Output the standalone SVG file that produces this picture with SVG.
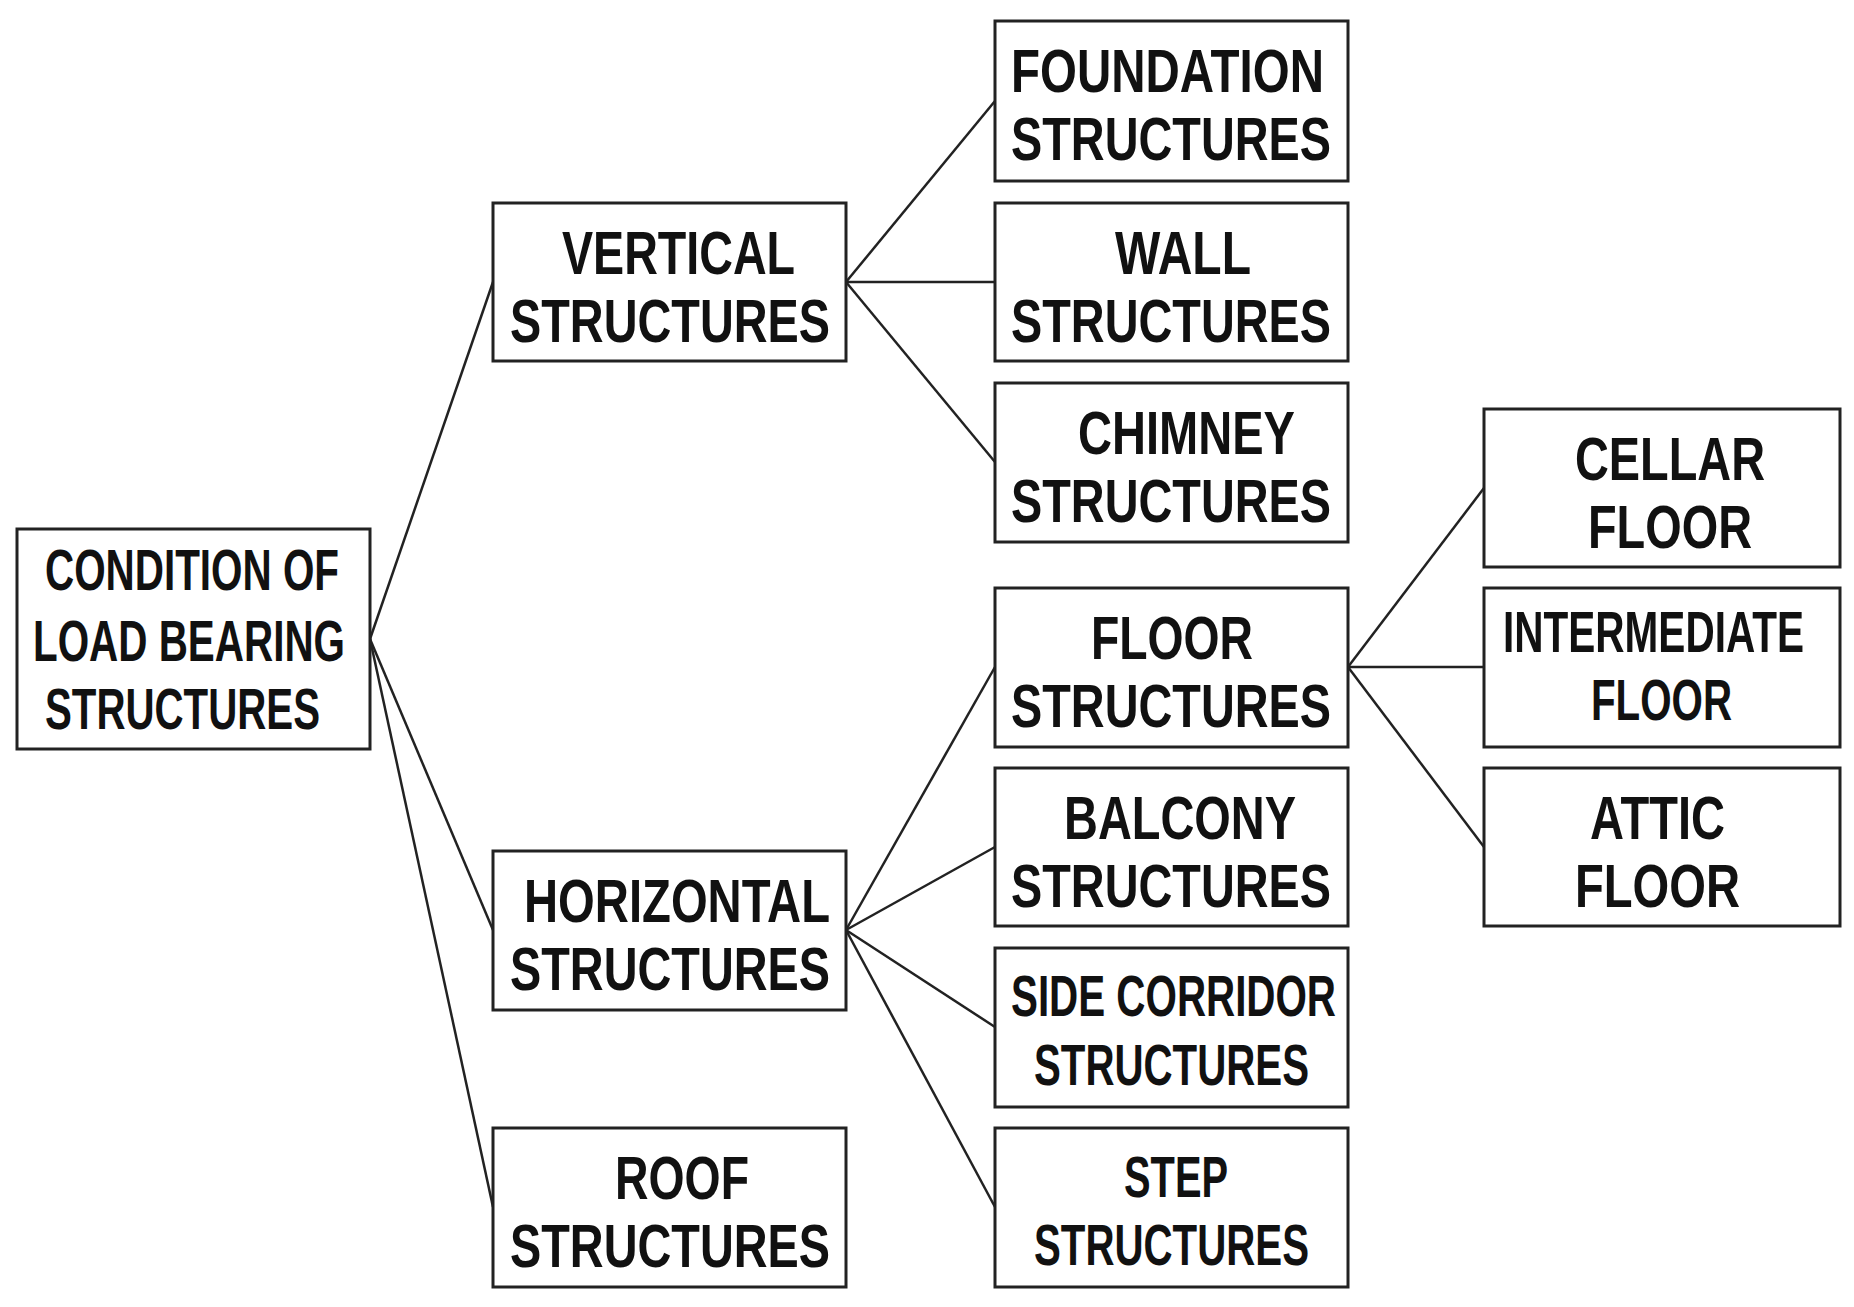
<svg xmlns="http://www.w3.org/2000/svg" width="1854" height="1307" viewBox="0 0 1854 1307">
<style>
rect{fill:#fff;stroke:#222;stroke-width:3}
text{font-family:"Liberation Sans",Arial,sans-serif;font-weight:bold;font-size:62px;fill:#111}
.s{font-size:57px}
line{stroke:#222;stroke-width:2.5}
</style>
<rect x="0" y="0" width="1854" height="1307" style="stroke:none"/>
<g id="connectors">
<line x1="370" y1="639" x2="493" y2="282"/>
<line x1="370" y1="639" x2="493" y2="930"/>
<line x1="370" y1="639" x2="493" y2="1207"/>
<line x1="846" y1="282" x2="995" y2="101"/>
<line x1="846" y1="282" x2="995" y2="282"/>
<line x1="846" y1="282" x2="995" y2="462"/>
<line x1="846" y1="930" x2="995" y2="667"/>
<line x1="846" y1="930" x2="995" y2="847"/>
<line x1="846" y1="930" x2="995" y2="1027"/>
<line x1="846" y1="930" x2="995" y2="1207"/>
<line x1="1348" y1="667" x2="1484" y2="488"/>
<line x1="1348" y1="667" x2="1484" y2="667"/>
<line x1="1348" y1="667" x2="1484" y2="847"/>
</g>
<g id="root"><rect x="17" y="529" width="353" height="220"/>
<text class="s" x="45" y="590" textLength="294" lengthAdjust="spacingAndGlyphs">CONDITION OF</text>
<text class="s" x="33" y="661" textLength="312" lengthAdjust="spacingAndGlyphs">LOAD BEARING</text>
<text class="s" x="45" y="729" textLength="275" lengthAdjust="spacingAndGlyphs">STRUCTURES</text></g>
<g id="vertical"><rect x="493" y="203" width="353" height="158"/>
<text x="562" y="274" textLength="233" lengthAdjust="spacingAndGlyphs">VERTICAL</text>
<text x="510" y="342" textLength="320" lengthAdjust="spacingAndGlyphs">STRUCTURES</text></g>
<g id="horizontal"><rect x="493" y="851" width="353" height="159"/>
<text x="524" y="922" textLength="306" lengthAdjust="spacingAndGlyphs">HORIZONTAL</text>
<text x="510" y="990" textLength="320" lengthAdjust="spacingAndGlyphs">STRUCTURES</text></g>
<g id="roof"><rect x="493" y="1128" width="353" height="159"/>
<text x="615" y="1199" textLength="134" lengthAdjust="spacingAndGlyphs">ROOF</text>
<text x="510" y="1267" textLength="320" lengthAdjust="spacingAndGlyphs">STRUCTURES</text></g>
<g id="foundation"><rect x="995" y="21" width="353" height="160"/>
<text x="1011" y="92" textLength="313" lengthAdjust="spacingAndGlyphs">FOUNDATION</text>
<text x="1011" y="160" textLength="320" lengthAdjust="spacingAndGlyphs">STRUCTURES</text></g>
<g id="wall"><rect x="995" y="203" width="353" height="158"/>
<text x="1115" y="274" textLength="136" lengthAdjust="spacingAndGlyphs">WALL</text>
<text x="1011" y="342" textLength="320" lengthAdjust="spacingAndGlyphs">STRUCTURES</text></g>
<g id="chimney"><rect x="995" y="383" width="353" height="159"/>
<text x="1078" y="454" textLength="217" lengthAdjust="spacingAndGlyphs">CHIMNEY</text>
<text x="1011" y="522" textLength="320" lengthAdjust="spacingAndGlyphs">STRUCTURES</text></g>
<g id="floor"><rect x="995" y="588" width="353" height="159"/>
<text x="1091" y="659" textLength="162" lengthAdjust="spacingAndGlyphs">FLOOR</text>
<text x="1011" y="727" textLength="320" lengthAdjust="spacingAndGlyphs">STRUCTURES</text></g>
<g id="balcony"><rect x="995" y="768" width="353" height="158"/>
<text x="1064" y="839" textLength="232" lengthAdjust="spacingAndGlyphs">BALCONY</text>
<text x="1011" y="907" textLength="320" lengthAdjust="spacingAndGlyphs">STRUCTURES</text></g>
<g id="sidecorridor"><rect x="995" y="948" width="353" height="159"/>
<text class="s" x="1011" y="1016" textLength="325" lengthAdjust="spacingAndGlyphs">SIDE CORRIDOR</text>
<text class="s" x="1034" y="1085" textLength="275" lengthAdjust="spacingAndGlyphs">STRUCTURES</text></g>
<g id="step"><rect x="995" y="1128" width="353" height="159"/>
<text class="s" x="1124" y="1197" textLength="104" lengthAdjust="spacingAndGlyphs">STEP</text>
<text class="s" x="1034" y="1265" textLength="275" lengthAdjust="spacingAndGlyphs">STRUCTURES</text></g>
<g id="cellar"><rect x="1484" y="409" width="356" height="158"/>
<text x="1575" y="480" textLength="190" lengthAdjust="spacingAndGlyphs">CELLAR</text>
<text x="1588" y="548" textLength="164" lengthAdjust="spacingAndGlyphs">FLOOR</text></g>
<g id="intermediate"><rect x="1484" y="588" width="356" height="159"/>
<text class="s" x="1503" y="652" textLength="301" lengthAdjust="spacingAndGlyphs">INTERMEDIATE</text>
<text class="s" x="1591" y="720" textLength="141" lengthAdjust="spacingAndGlyphs">FLOOR</text></g>
<g id="attic"><rect x="1484" y="768" width="356" height="158"/>
<text x="1590" y="839" textLength="135" lengthAdjust="spacingAndGlyphs">ATTIC</text>
<text x="1575" y="907" textLength="165" lengthAdjust="spacingAndGlyphs">FLOOR</text></g>
</svg>
